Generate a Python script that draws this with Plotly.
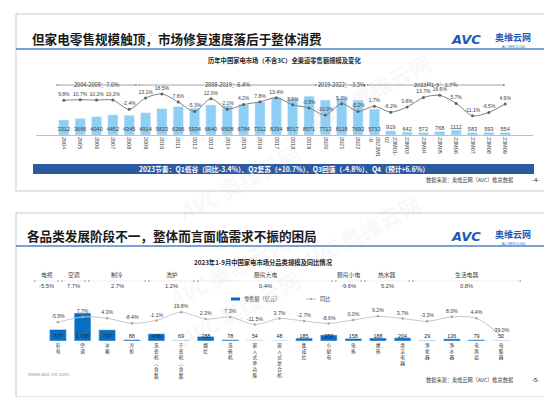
import plotly.graph_objects as go

W, H = 552, 397
def X(px): return px / W
def Y(py): return 1 - py / H

FONT = "Liberation Sans, Noto Sans CJK SC, sans-serif"
CJK = "Noto Sans CJK SC, sans-serif"

# ---------------- top chart data ----------------
top_cats = ["2004", "2005", "2006", "2007", "2008", "2009", "2010", "2011", "2012",
            "2013", "2014", "2015", "2016", "2017", "2018", "2019", "2020", "2021",
            "2022", "2023M1<br>-9", "23M01-<br>02", "23M03", "23M04", "23M05", "23M06",
            "23M07", "23M08", "23M09"]
top_sales = [3312, 3666, 4040, 4452, 4345, 4914, 5823, 6266, 5934, 6640, 6508, 6784,
             7312, 8294, 8017, 8571, 7713, 8118, 7692, 5713, 919, 642, 572, 768, 1112,
             583, 593, 554]
top_growth = [9.8, 10.7, 10.2, 10.2, -2.4, 13.1, 18.5, 7.6, -5.3, 12.0, -2.1, 4.2, 7.8,
              13.4, 3.9, -0.5, -10.0, 5.3, -5.2, 1.7, -6.2, 0.8, 13.7, 16.6, 5.7, -11.1,
              -6.5, 4.9]
n_years = 20  # 2004..2022 + 2023M1-9 drawn with label inside
period_labels = ["2004-2008：7.0%", "2008-2019：6.4%", "2019-2022：-3.5%", "2023M1-9：1.7%"]
period_from = ["2004", "2008", "2019", "2022"]
period_to = ["2008", "2019", "2022", "23M09"]

# ---------------- bottom chart data ----------------
cats2 = ["彩电", "空调", "冰箱", "冷柜", "洗衣机︵含套︶", "干衣机︵含套︶", "烟灶", "洗碗机",
         "嵌入式单功能", "嵌入式复合机", "集成灶", "小厨电", "电热", "燃热", "清洁电器",
         "净化器", "净水器", "电风扇", "电暖器"]
sales2 = [727, 1768, 707, 88, 456, 69, 288, 78, 54, 48, 185, 383, 158, 188, 204, 29, 136, 79, 52]
growth2 = [-5.5, 7.7, 4.3, -8.4, -1.1, 19.8, 2.3, 7.3, -11.5, 3.7, -2.7, -8.6, 0.0, 9.2,
           3.7, -3.3, 8.0, 4.4, -39.0]
light2 = ["干衣机︵含套︶", "嵌入式单功能", "嵌入式复合机", "电暖器"]
groups = ["电视", "空调", "制冷", "洗护", "厨房大电", "厨房小电", "热水器", "生活电器"]
group_growth = ["-5.5%", "7.7%", "2.7%", "1.2%", "0.4%", "-9.6%", "5.2%", "0.8%"]

fig = go.Figure()

# top bars
fig.add_trace(go.Bar(x=top_cats, y=top_sales, marker_color="#8DCFF5", width=0.62,
                     xaxis="x", yaxis="y", showlegend=False, hoverinfo="skip"))
# top value labels
fig.add_trace(go.Scatter(x=top_cats[:n_years], y=[1100] * n_years, mode="text",
                         text=[str(v) for v in top_sales[:n_years]],
                         textfont=dict(size=5.6, color="#404040", family=FONT),
                         xaxis="x", yaxis="y", showlegend=False, hoverinfo="skip"))
fig.add_trace(go.Scatter(x=top_cats[n_years:], y=top_sales[n_years:], mode="text",
                         text=[str(v) for v in top_sales[n_years:]], textposition="top center",
                         textfont=dict(size=5.6, color="#404040", family=FONT),
                         xaxis="x", yaxis="y", showlegend=False, hoverinfo="skip"))
# top growth line
fig.add_trace(go.Scatter(x=top_cats, y=top_growth, mode="lines+markers+text",
                         line=dict(color="#808080", width=1, shape="spline", smoothing=0.8),
                         marker=dict(size=3, color="#606060"),
                         text=[f"{g:.1f}%" for g in top_growth], textposition="top center",
                         textfont=dict(size=5.0, color="#404040", family=FONT),
                         cliponaxis=False, xaxis="x", yaxis="y2", showlegend=False,
                         hoverinfo="skip"))

# bottom bars
colors2 = ["#B4D3EE" if c in light2 else "#0A6FC2" for c in cats2]
fig.add_trace(go.Bar(x=cats2, y=sales2, marker_color=colors2, width=0.68,
                     xaxis="x3", yaxis="y3", showlegend=False, hoverinfo="skip"))
fig.add_trace(go.Scatter(x=cats2, y=[290] * len(cats2), mode="text",
                         text=[f"{v:,}" for v in sales2],
                         textfont=dict(size=5.4, color="#262626", family=FONT),
                         xaxis="x3", yaxis="y3", showlegend=False, hoverinfo="skip"))
fig.add_trace(go.Scatter(x=cats2, y=growth2, mode="lines+markers+text",
                         line=dict(color="#C8C8C8", width=1, shape="spline", smoothing=0.8),
                         marker=dict(size=2.5, color="#A6A6A6"),
                         text=[f"{g:.1f}%" for g in growth2], textposition="top center",
                         textfont=dict(size=5.2, color="#404040", family=FONT),
                         cliponaxis=False, xaxis="x3", yaxis="y4", showlegend=False,
                         hoverinfo="skip"))

shapes = []
ann = []

def text(px, py, s, size, color="#262626", xanchor="center", family=CJK, **kw):
    ann.append(dict(x=X(px), y=Y(py), xref="paper", yref="paper", text=s, showarrow=False,
                    xanchor=xanchor, yanchor="middle", font=dict(size=size, color=color, family=family), **kw))

def rect(x0, y0, x1, y1, line="#C8C8C8", fill=None, w=1):
    shapes.append(dict(type="rect", xref="paper", yref="paper", x0=X(x0), x1=X(x1), y0=Y(y0), y1=Y(y1),
                       line=dict(color=line, width=w), fillcolor=fill, layer="below"))

def hline(x0, x1, y, color, w=1):
    shapes.append(dict(type="line", xref="paper", yref="paper", x0=X(x0), x1=X(x1), y0=Y(y), y1=Y(y),
                       line=dict(color=color, width=w)))

# slide frames
rect(8, 6, 546, 183, line="#C9C9C9")
rect(8, 205, 546, 389, line="#C9C9C9")

# watermarks (very faint)
for (wx, wy) in [(160, 125), (360, 35), (150, 262), (230, 350), (350, 225)]:
    ann.append(dict(x=X(wx), y=Y(wy), xref="paper", yref="paper", showarrow=False, textangle=-28,
                    text="<b><i>AVC</i> 奥维云网</b>", font=dict(size=22, color="rgba(190,190,190,0.10)", family=CJK)))

for ty, title, tx in [(30, "但家电零售规模触顶，市场修复速度落后于整体消费", 22),
                      (227, "各品类发展阶段不一，整体而言面临需求不振的困局", 17)]:
    text(tx, ty, "<b>" + title + "</b>", 12.6, color="#1A1A1A", xanchor="left")
    hline(8, 546, ty + 11, "#4A84C6", 1.5)
    # logo
    text(458, ty + 2, "<b><i>AVC</i></b>", 13, color="#1D5BB4", family="DejaVu Sans, sans-serif")
    text(505, ty - 0.5, "<b>奥维云网</b>", 9, color="#1D5BB4")
    text(505, ty + 8.5, "ALL VIEW CLOUD", 2.8, color="#1D5BB4", family=FONT)

# top subtitle
text(276, 53, "<b>历年中国家电市场（不含3C）全渠道零售额规模及变化</b>", 6.3)

# period arrows
for lab, a, b in zip(period_labels, period_from, period_to):
    i0 = top_cats.index(a) - (0.5 if a == "2004" else -0.5)
    i1 = top_cats.index(b) + (0.5 if b != "23M09" else 0)
    ann.append(dict(x=i1, y=Y(77), xref="x", yref="paper", ax=i0, ay=0, axref="x", ayref="pixel",
                    showarrow=True, arrowhead=2, arrowsize=0.6, arrowwidth=0.7, arrowcolor="#808080",
                    arrowside="end+start", startarrowhead=6, startarrowsize=0.6, text=""))
    ann.append(dict(x=(i0 + i1) / 2, y=Y(71), xref="x", yref="paper", text=lab, showarrow=False,
                    font=dict(size=5.6, color="#404040", family=CJK)))

# banner
rect(25, 156, 526, 166, line="#2C5AA0", fill="#2C5AA0", w=0)
text(276, 161, "<b>2023节奏：Q1低谷（同比-3.4%）、Q2复苏（+10.7%）、Q3回落（-4.8%）、Q4（预计+6.6%）</b>",
     6.8, color="white")

for fy, pg in [(172, "-4-"), (372, "-5-")]:
    text(416, fy, "数据来源：奥维云网（AVC）推总数据", 5.2, color="#404040", xanchor="left")
    text(527, fy, pg, 6, color="#262626", family=FONT)

# bottom subtitle
text(255, 254, "<b>2023年1-9月中国家电市场分品类规模及同比情况</b>", 6.3)

# header groups
dividers = [25, 52, 79, 139, 188, 326, 355, 403, 514]
for g, gg, l, r in zip(groups, group_growth, dividers[:-1], dividers[1:]):
    c = (l + r) / 2
    text(c, 266, g, 5.8, color="#404040")
    text(c, 278, gg, 5.8, color="#404040", family=FONT)
    hline(l + 1, r - 1, 273, "#E3E3E3", 0.6)
    hline(l + 1, l + 2.5, 273, "#7F7F7F", 1)
    hline(r - 2.5, r - 1, 273, "#7F7F7F", 1)

# legend
shapes.append(dict(type="rect", xref="paper", yref="paper", x0=X(223), x1=X(232), y0=Y(292.5), y1=Y(289.5),
                   fillcolor="#0A6FC2", line=dict(width=0)))
text(234, 291, "零售额（亿元）", 5.2, color="#404040", xanchor="left")
hline(298, 308, 291, "#B0B0B0", 0.8)
shapes.append(dict(type="circle", xref="paper", yref="paper", x0=X(302), x1=X(304), y0=Y(292), y1=Y(290),
                   fillcolor="#A0A0A0", line=dict(width=0)))
text(310, 291, "同比", 5.2, color="#404040", xanchor="left")

text(17, 366, "www.avc-mr.com", 5.5, color="#A6A6A6", xanchor="left", family=FONT)

fig.update_layout(
    width=W, height=H, margin=dict(l=0, r=0, t=0, b=0),
    paper_bgcolor="white", plot_bgcolor="rgba(0,0,0,0)",
    font=dict(family=FONT),
    bargap=0.3,
    xaxis=dict(domain=[X(28), X(525)], type="category", showline=True, linecolor="#BFBFBF",
               linewidth=0.8, ticks="", tickangle=90, tickfont=dict(size=5.5, color="#404040"),
               showgrid=False, anchor="y", fixedrange=True),
    yaxis=dict(domain=[Y(127), Y(55)], range=[0, 15900], visible=False, fixedrange=True),
    yaxis2=dict(domain=[Y(127), Y(55)], range=[-37.2, 60.5], visible=False, overlaying="y",
                anchor="x"),
    xaxis3=dict(domain=[X(22), X(521)], type="category", showline=False, ticks="",
                tickfont=dict(size=4.6, color="#262626", family=CJK), showgrid=False,
                anchor="y3", tickangle=0,
                tickvals=cats2, ticktext=["<br>".join(list(c)) for c in cats2]),
    yaxis3=dict(domain=[Y(333), Y(295)], range=[0, 2400], visible=False),
    yaxis4=dict(domain=[Y(333), Y(295)], range=[-52.9, 42.8], visible=False, overlaying="y3",
                anchor="x3"),
    shapes=shapes, annotations=ann,
)

fig.write_html("out.html")
